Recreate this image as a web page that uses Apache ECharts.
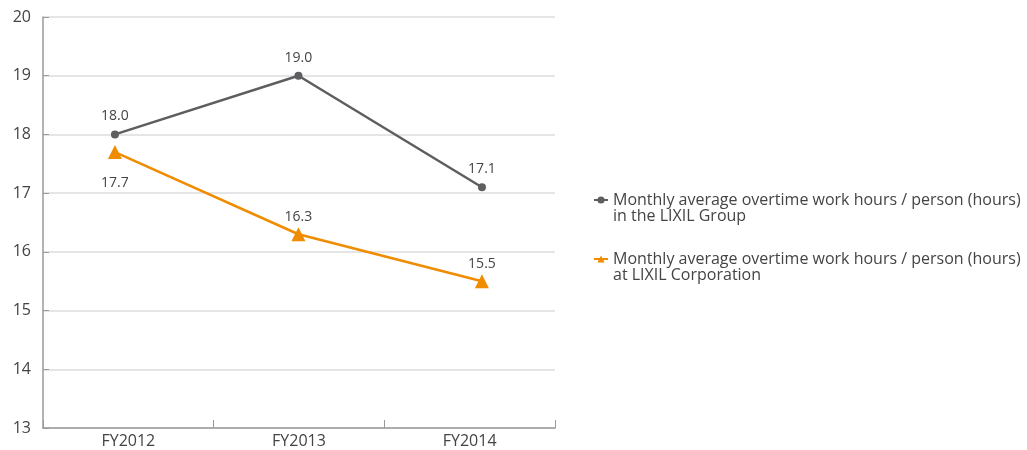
<!DOCTYPE html>
<html>
<head>
<meta charset="utf-8">
<script src="https://cdn.jsdelivr.net/npm/echarts@6/dist/echarts.min.js"></script>
<style>
  html, body { margin: 0; padding: 0; background: #fff; }
  #chart { width: 1027px; height: 450px; }
</style>
</head>
<body>
<div id="chart"></div>
<script>
// Fiscal years on the horizontal axis
const categories = ['FY2012', 'FY2013', 'FY2014'];
// Monthly average overtime hours per person
const groupHours = [18.0, 19.0, 17.1];
const corporationHours = [17.7, 16.3, 15.5];
const seriesNames = [
  'Monthly average overtime work hours / person (hours)\nin the LIXIL Group',
  'Monthly average overtime work hours / person (hours)\nat LIXIL Corporation'
];

const font = '"Open Sans", "Noto Sans", sans-serif';
const gray = '#5e5e60';
const orange = '#f08c00';

const valueLabel = p => p.value[1].toFixed(1);

const chart = echarts.init(document.getElementById('chart'));
chart.setOption({
  animation: false,
  grid: { left: 43, top: 17, right: 472, bottom: 22, containLabel: false },
  legend: {
    orient: 'vertical',
    left: 588,
    top: 171,
    itemGap: 11,
    itemWidth: 14,
    itemHeight: 9,
    // a leading blank line keeps each marker level with the first text line
    formatter: name => '\n' + name,
    textStyle: { fontFamily: font, fontSize: 16, color: '#444', lineHeight: 16 },
    data: [seriesNames[0], seriesNames[1]]
  },
  xAxis: [
    {
      type: 'category',
      data: categories,
      boundaryGap: true,
      axisLine: { lineStyle: { color: '#9a9a9a', width: 1.5 } },
      axisTick: { show: true, inside: true, length: 8, lineStyle: { color: '#9a9a9a' } },
      axisLabel: { fontFamily: font, fontSize: 16, color: '#444', margin: 5 }
    },
    {
      // positional scale for the plotted points
      type: 'value',
      min: -0.392,
      max: 2.398,
      show: false
    }
  ],
  yAxis: {
    type: 'value',
    min: 13,
    max: 20,
    interval: 1,
    axisLine: { show: true, onZero: false, lineStyle: { color: '#9a9a9a', width: 1.5 } },
    axisTick: { show: true, inside: true, length: 6, lineStyle: { color: '#9a9a9a' } },
    axisLabel: { fontFamily: font, fontSize: 16, color: '#444', margin: 12 },
    splitLine: { lineStyle: { color: '#dcdcdc', width: 1.5 } }
  },
  series: [
    {
      name: seriesNames[0],
      type: 'line',
      xAxisIndex: 1,
      data: groupHours.map((v, i) => [i, v]),
      symbol: 'circle',
      symbolSize: 8,
      lineStyle: { color: gray, width: 2.5 },
      itemStyle: { color: gray },
      label: {
        show: true,
        position: 'top',
        distance: 7,
        fontFamily: font,
        fontSize: 14,
        color: '#444',
        formatter: valueLabel
      }
    },
    {
      name: seriesNames[1],
      type: 'line',
      xAxisIndex: 1,
      // the first label sits below its marker
      data: corporationHours.map((v, i) => i === 0
        ? { value: [i, v], label: { position: 'bottom', distance: 17 } }
        : { value: [i, v] }),
      symbol: 'triangle',
      symbolSize: 14,
      lineStyle: { color: orange, width: 2.5 },
      itemStyle: { color: orange },
      label: {
        show: true,
        position: 'top',
        distance: 3,
        fontFamily: font,
        fontSize: 14,
        color: '#444',
        formatter: valueLabel
      }
    }
  ]
});
</script>
</body>
</html>
